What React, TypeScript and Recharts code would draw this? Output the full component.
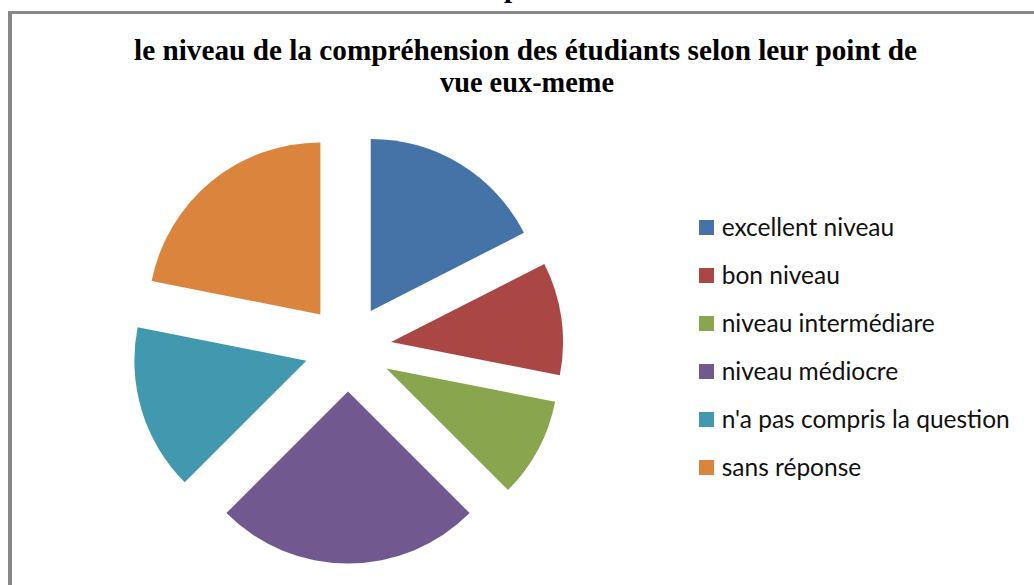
import React from "react";
import { PieChart, Pie, Cell, Sector, Legend } from "recharts";

const categories = [
  "excellent niveau",
  "bon niveau",
  "niveau intermédiare",
  "niveau médiocre",
  "n'a pas compris la question",
  "sans réponse",
];
const values = [17.5, 10.6, 9.4, 25.0, 15.6, 21.9];
const colors = ["#4572A7", "#AA4643", "#89A54E", "#71588F", "#4198AF", "#DB843D"];
const titleLines = [
  "le niveau de la compréhension des étudiants selon leur point de",
  "vue eux-meme",
];

const data = categories.map((name, i) => ({ name, value: values[i] }));

const RADIAN = Math.PI / 180;
const EXPLODE = 43.5;

function ExplodedSector(props: any) {
  const { cx, cy, midAngle, innerRadius, outerRadius, startAngle, endAngle, fill } = props;
  const dx = EXPLODE * Math.cos(-midAngle * RADIAN);
  const dy = EXPLODE * Math.sin(-midAngle * RADIAN);
  return (
    <Sector
      cx={cx + dx}
      cy={cy + dy}
      innerRadius={innerRadius}
      outerRadius={outerRadius}
      startAngle={startAngle}
      endAngle={endAngle}
      fill={fill}
      stroke="none"
    />
  );
}

function LegendContent(props: any) {
  const payload = [...(props.payload || [])].sort(
    (a: any, b: any) => categories.indexOf(a.value) - categories.indexOf(b.value)
  );
  return (
    <svg width={335} height={300} style={{ display: "block", overflow: "visible" }}>
      {payload.map((entry: any, i: number) => (
        <g key={i}>
          <rect x={0} y={i * 48} width={15} height={15} fill={entry.color} />
          <text
            x={22.7}
            y={i * 48 + 16}
            fontFamily="Lato, 'Open Sans', sans-serif"
            fontSize={24.5}
            fill="#111"
          >
            {entry.value}
          </text>
        </g>
      ))}
    </svg>
  );
}

export default function App() {
  return (
    <div
      style={{
        position: "absolute",
        left: 0,
        top: 0,
        width: 1034,
        height: 585,
        overflow: "hidden",
        background: "#fff",
      }}
    >
      <div
        style={{
          position: "absolute",
          left: 8,
          top: 11,
          width: 1200,
          height: 800,
          borderLeft: "4px solid #888888",
          borderTop: "3px solid #888888",
        }}
      />
      <div style={{ position: "absolute", left: 0, top: 0 }}>
        <PieChart width={1034} height={585} margin={{ top: 0, right: 0, bottom: 0, left: 0 }}>
          <Pie
            data={data}
            dataKey="value"
            nameKey="name"
            cx={348}
            cy={348}
            outerRadius={172}
            startAngle={90}
            endAngle={-270}
            stroke="none"
            isAnimationActive={false}
            shape={ExplodedSector}
            inactiveShape={ExplodedSector}
          >
            {data.map((d, i) => (
              <Cell key={d.name} fill={colors[i]} />
            ))}
          </Pie>
          <Legend
            layout="vertical"
            align="right"
            verticalAlign="top"
            content={<LegendContent />}
            wrapperStyle={{ left: 699, top: 220, width: 335, height: 300 }}
          />
        </PieChart>
      </div>
      <svg
        width={1034}
        height={585}
        style={{ position: "absolute", left: 0, top: 0, pointerEvents: "none" }}
      >
        <text
          x={504}
          y={-3}
          fontFamily="'Liberation Serif', 'Times New Roman', serif"
          fontWeight="bold"
          fontSize={29}
          fill="#000"
        >
          p
        </text>
        <text
          x={525.5}
          y={59.5}
          textAnchor="middle"
          fontFamily="'Liberation Serif', 'Times New Roman', serif"
          fontWeight="bold"
          fontSize={29}
          fill="#000"
          textLength={783}
          lengthAdjust="spacingAndGlyphs"
        >
          {titleLines[0]}
        </text>
        <text
          x={527}
          y={92}
          textAnchor="middle"
          fontFamily="'Liberation Serif', 'Times New Roman', serif"
          fontWeight="bold"
          fontSize={29}
          fill="#000"
          textLength={174}
          lengthAdjust="spacingAndGlyphs"
        >
          {titleLines[1]}
        </text>
      </svg>
    </div>
  );
}
